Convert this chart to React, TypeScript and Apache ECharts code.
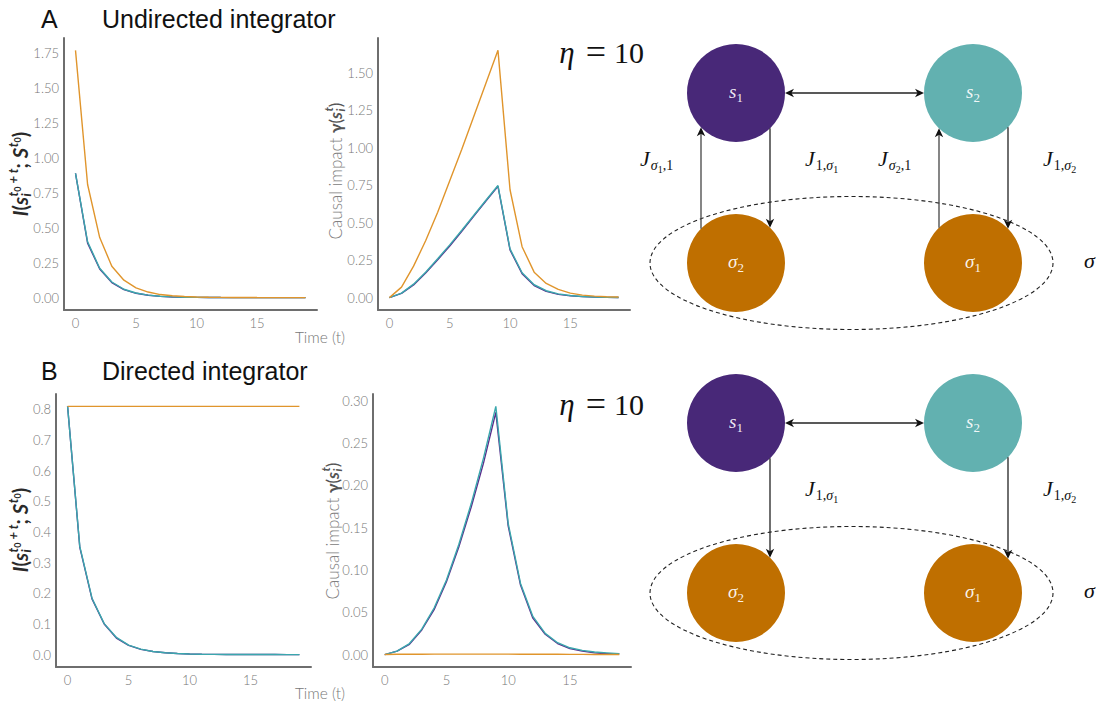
import React, { useEffect, useRef } from "react";
import * as echarts from "echarts";

// ---------------- data ----------------
const TIME = [0, 1, 2, 3, 4, 5, 6, 7, 8, 9, 10, 11, 12, 13, 14, 15, 16, 17, 18, 19];
const X_TICKS = [0, 5, 10, 15];
const TL_Y_TICKS = [0, 0.25, 0.5, 0.75, 1, 1.25, 1.5, 1.75];
const TM_Y_TICKS = [0, 0.25, 0.5, 0.75, 1, 1.25, 1.5];
const BL_Y_TICKS = [0, 0.1, 0.2, 0.3, 0.4, 0.5, 0.6, 0.7, 0.8];
const BM_Y_TICKS = [0, 0.05, 0.1, 0.15, 0.2, 0.25, 0.3];

// A: undirected integrator, mutual information
const uInfoS1 = [0.89, 0.39, 0.205, 0.108, 0.057, 0.031, 0.017, 0.009, 0.005, 0.003, 0.0016, 0.0009, 0.0005, 0.0003, 0.0002, 0.0001, 0.0001, 0, 0, 0];
const uInfoS2 = [0.89, 0.4, 0.21, 0.112, 0.06, 0.033, 0.018, 0.01, 0.0055, 0.003, 0.0017, 0.001, 0.0005, 0.0003, 0.0002, 0.0001, 0.0001, 0, 0, 0];
const uInfoSigma = [1.77, 0.81, 0.43, 0.225, 0.125, 0.07, 0.04, 0.022, 0.013, 0.008, 0.005, 0.003, 0.002, 0.001, 0.001, 0.0005, 0.0003, 0.0002, 0.0001, 0.0001];
// A: undirected integrator, causal impact
const uImpS1 = [0, 0.028, 0.085, 0.165, 0.253, 0.345, 0.443, 0.545, 0.645, 0.743, 0.318, 0.16, 0.081, 0.042, 0.022, 0.012, 0.007, 0.004, 0.002, 0.001];
const uImpS2 = [0, 0.03, 0.09, 0.17, 0.26, 0.352, 0.45, 0.55, 0.65, 0.748, 0.325, 0.166, 0.086, 0.046, 0.025, 0.014, 0.008, 0.004, 0.002, 0.001];
const uImpSigma = [0, 0.07, 0.21, 0.38, 0.57, 0.78, 0.99, 1.21, 1.43, 1.65, 0.72, 0.34, 0.17, 0.095, 0.055, 0.03, 0.017, 0.01, 0.006, 0.004];
// B: directed integrator, mutual information
const dInfoS1 = [0.81, 0.35, 0.182, 0.1, 0.054, 0.03, 0.017, 0.01, 0.006, 0.0035, 0.002, 0.0012, 0.0007, 0.0004, 0.0003, 0.0002, 0.0001, 0.0001, 0, 0];
const dInfoS2 = [0.81, 0.353, 0.184, 0.101, 0.056, 0.031, 0.018, 0.01, 0.006, 0.0036, 0.002, 0.0012, 0.0007, 0.0004, 0.0003, 0.0002, 0.0001, 0.0001, 0, 0];
const dInfoSigma = [0.81, 0.81, 0.81, 0.81, 0.81, 0.81, 0.81, 0.81, 0.81, 0.81, 0.81, 0.81, 0.81, 0.81, 0.81, 0.81, 0.81, 0.81, 0.81, 0.81];
// B: directed integrator, causal impact
const dImpS1 = [0, 0.004, 0.012, 0.029, 0.053, 0.086, 0.127, 0.174, 0.226, 0.286, 0.152, 0.082, 0.043, 0.024, 0.013, 0.007, 0.004, 0.002, 0.001, 0.001];
const dImpS2 = [0, 0.004, 0.013, 0.03, 0.055, 0.088, 0.13, 0.178, 0.232, 0.293, 0.155, 0.084, 0.045, 0.025, 0.014, 0.008, 0.005, 0.003, 0.002, 0.001];
const dImpSigma = [0, 0.0003, 0.0004, 0.0004, 0.0005, 0.0005, 0.0005, 0.0005, 0.0005, 0.0005, 0.0005, 0.0004, 0.0004, 0.0003, 0.0003, 0.0002, 0.0002, 0.0001, 0.0001, 0.0001];

// ---------------- styles ----------------
const C_S1 = "#5a2d8c";
const C_S2 = "#3aa7ad";
const C_SIG = "#e0952c";
const NODE_S1 = "#482878";
const NODE_S2 = "#62b1b0";
const NODE_SIG = "#bf6f00";
const AXIS_C = "#6e6e6e";
const TICK_C = "#777777";
const SANS = "Lato, 'Open Sans', sans-serif";
const SERIF = "'Liberation Serif', 'DejaVu Serif', serif";

let measureCtx: CanvasRenderingContext2D | null = null;
function textWidth(text: string, font: string): number {
  if (!measureCtx) measureCtx = document.createElement("canvas").getContext("2d");
  if (!measureCtx) return text.length * 8;
  measureCtx.font = font;
  return measureCtx.measureText(text).width;
}

type Piece = {
  t: string;
  size: number;
  shift?: number;
  family?: string;
  italic?: boolean;
  weight?: number | string;
  color?: string;
  mark?: boolean;
  reset?: boolean;
  gap?: number;
};

function mathGroup(
  pieces: Piece[],
  x: number,
  y: number,
  opts: { rotation?: number; align?: "center" | "left"; family: string; color: string; k?: number }
) {
  const k = opts.k ?? 0.33;
  let cx = 0;
  let markX = 0;
  const children: any[] = [];
  for (const p of pieces) {
    const fam = p.family ?? opts.family;
    const font = `${p.italic ? "italic " : ""}${p.weight ?? "normal"} ${p.size}px ${fam}`;
    const w = textWidth(p.t, font);
    if (p.mark) markX = cx;
    const px = p.reset ? markX : cx;
    children.push({
      type: "text",
      z: 30,
      x: px,
      y: (p.shift ?? 0) - k * p.size,
      style: {
        text: p.t,
        font,
        fill: p.color ?? opts.color,
        textAlign: "left",
        textVerticalAlign: "middle",
        align: "left",
        verticalAlign: "middle",
      },
    });
    if (p.reset) cx = Math.max(cx, markX + w);
    else cx = px + w + (p.gap ?? 0);
  }
  const off = opts.align === "left" ? 0 : -cx / 2;
  children.forEach((c) => (c.x += off));
  return { type: "group", x, y, rotation: opts.rotation ?? 0, children, z: 30 };
}

function arrowHead(tx: number, ty: number, dx: number, dy: number) {
  const L = 9, W = 4.2, N = 2.6;
  const px = -dy, py = dx;
  return {
    type: "polygon",
    z: 15,
    shape: {
      points: [
        [tx, ty],
        [tx - dx * L + px * W, ty - dy * L + py * W],
        [tx - dx * (L - N), ty - dy * (L - N)],
        [tx - dx * L - px * W, ty - dy * L - py * W],
      ],
    },
    style: { fill: "#111" },
  };
}

function arrow(x1: number, y1: number, x2: number, y2: number, both: boolean, color = "#222") {
  const len = Math.hypot(x2 - x1, y2 - y1);
  const dx = (x2 - x1) / len, dy = (y2 - y1) / len;
  const els: any[] = [];
  const s = both ? 6 : 0;
  els.push({
    type: "line",
    z: 14,
    shape: { x1: x1 + dx * s, y1: y1 + dy * s, x2: x2 - dx * 6, y2: y2 - dy * 6 },
    style: { stroke: color, lineWidth: 1.3 },
  });
  els.push(arrowHead(x2, y2, dx, dy));
  if (both) els.push(arrowHead(x1, y1, -dx, -dy));
  return els;
}

function nodeLabel(sym: string, sub: string, cx: number, cy: number) {
  return mathGroup(
    [
      { t: sym, size: 19, italic: true },
      { t: sub, size: 13, shift: 4 },
    ],
    cx,
    cy + 5,
    { family: SERIF, color: "rgba(255,255,255,0.92)" }
  );
}

function jLabel(kind: "s1" | "1s", subA: string, x: number, y: number) {
  const pieces: Piece[] =
    kind === "s1"
      ? [
          { t: "J", size: 22, italic: true, gap: 1 },
          { t: "σ", size: 14, italic: true, shift: 4 },
          { t: subA, size: 10, shift: 7 },
          { t: ",1", size: 14, shift: 4 },
        ]
      : [
          { t: "J", size: 22, italic: true, gap: 1 },
          { t: "1,", size: 14, shift: 4 },
          { t: "σ", size: 14, italic: true, shift: 4 },
          { t: subA, size: 10, shift: 7 },
        ];
  return mathGroup(pieces, x, y, { family: SERIF, color: "#111", align: "left" });
}

function diagram(ty: number, withUp: boolean) {
  const r = 49;
  const lx = 736, rx = 973;
  const by = ty + 170;
  const els: any[] = [];
  els.push({
    type: "ellipse",
    z: 10,
    shape: { cx: 851.5, cy: by, rx: 201.5, ry: 66.5 },
    style: { fill: "none", stroke: "#222", lineWidth: 1.1, lineDash: [4, 3] },
  });
  els.push({ type: "circle", z: 12, shape: { cx: lx, cy: ty, r }, style: { fill: NODE_S1 } });
  els.push({ type: "circle", z: 12, shape: { cx: rx, cy: ty, r }, style: { fill: NODE_S2 } });
  els.push({ type: "circle", z: 12, shape: { cx: lx, cy: by, r }, style: { fill: NODE_SIG } });
  els.push({ type: "circle", z: 12, shape: { cx: rx, cy: by, r }, style: { fill: NODE_SIG } });
  els.push(nodeLabel("s", "1", lx, ty));
  els.push(nodeLabel("s", "2", rx, ty));
  els.push(nodeLabel("σ", "2", lx, by));
  els.push(nodeLabel("σ", "1", rx, by));
  els.push(...arrow(lx + r, ty, rx - r, ty, true));
  const vy = (d: number) => Math.sqrt(r * r - d * d);
  els.push(...arrow(lx + 34, ty + vy(34), lx + 34, by - vy(34), false));
  els.push(...arrow(rx + 35, ty + vy(35), rx + 35, by - vy(35), false));
  if (withUp) {
    els.push(...arrow(lx - 35, by - vy(35), lx - 35, ty + vy(35), false, "#444"));
    els.push(...arrow(rx - 34, by - vy(34), rx - 34, ty + vy(34), false, "#444"));
    els.push(jLabel("s1", "1", 640, ty + 73));
    els.push(jLabel("s1", "2", 878, ty + 73));
  }
  els.push(jLabel("1s", "1", 805, ty + 73));
  els.push(jLabel("1s", "2", 1043, ty + 73));
  els.push(
    mathGroup([{ t: "σ", size: 22, italic: true }], 1084, by + 5, { family: SERIF, color: "#111", align: "left" })
  );
  return els;
}

function etaLabel(cy: number) {
  const mk = (t: string, x: number, size: number, italic = false) => ({
    type: "text",
    z: 20,
    x,
    y: cy,
    style: {
      text: t,
      font: (italic ? "italic " : "") + `${size}px ${SERIF}`,
      fill: "#111",
      textAlign: "center",
      textVerticalAlign: "middle",
      align: "center",
      verticalAlign: "middle",
    },
  });
  return [mk("η", 567, 31, true), mk("=", 596, 36), mk("10", 629, 30)];
}

function title(letter: string, text: string, y: number) {
  const st = (t: string, x: number) => ({
    type: "text",
    z: 20,
    x,
    y,
    style: {
      text: t,
      font: `25px 'Liberation Sans', Arial, sans-serif`,
      fill: "#111",
      textAlign: "left",
      textVerticalAlign: "middle",
      align: "left",
      verticalAlign: "middle",
    },
  });
  return [st(letter, 41), st(text, 102)];
}

function timeLabel(y: number) {
  return {
    type: "text",
    z: 20,
    x: 320,
    y,
    style: {
      text: "Time (t)",
      font: `300 15.5px ${SANS}`,
      fill: "#777",
      textAlign: "center",
      textVerticalAlign: "middle",
      align: "center",
      verticalAlign: "middle",
    },
  };
}

function infoYLabel(cx: number, cy: number) {
  return mathGroup(
    [
      { t: "I", size: 20, italic: true, weight: 700 },
      { t: "(", size: 20, weight: 700 },
      { t: "s", size: 20, italic: true, weight: 700, gap: 0.5 },
      { t: "t", size: 13, italic: true, weight: 700, shift: -9, mark: true },
      { t: "0", size: 9, weight: 700, shift: -6 },
      { t: " + t", size: 13, italic: true, weight: 700, shift: -9 },
      { t: "i", size: 13, italic: true, weight: 700, shift: 4, reset: true },
      { t: "; ", size: 20, weight: 700 },
      { t: "S", size: 20, italic: true, weight: 700, gap: 0.5 },
      { t: "t", size: 13, italic: true, weight: 700, shift: -9 },
      { t: "0", size: 9, weight: 700, shift: -6 },
      { t: ")", size: 20, weight: 700 },
    ],
    cx,
    cy,
    { rotation: Math.PI / 2, family: SANS, color: "#2a2a2a", k: 0.35 }
  );
}

function impactYLabel(cx: number, cy: number) {
  return mathGroup(
    [
      { t: "Causal impact ", size: 17, weight: 300, color: "#808080" },
      { t: "γ", size: 17, weight: 700, color: "#555" },
      { t: "(", size: 17, weight: 400, color: "#555" },
      { t: "s", size: 17, italic: true, weight: 700, color: "#555", gap: 0.5 },
      { t: "t", size: 12, italic: true, weight: 700, color: "#555", shift: -8, mark: true },
      { t: "i", size: 12, italic: true, weight: 700, color: "#555", shift: 4, reset: true },
      { t: ")", size: 17, weight: 400, color: "#555" },
    ],
    cx,
    cy,
    { rotation: Math.PI / 2, family: SANS, color: "#808080", k: 0.35 }
  );
}

const GRIDS = [
  { left: 64, top: 38, width: 253, height: 272 },
  { left: 378, top: 38, width: 252, height: 272 },
  { left: 56, top: 394, width: 255, height: 273 },
  { left: 373, top: 394, width: 258, height: 273 },
];
const Y_RANGES = [
  { min: -0.0885, max: 1.8585, ticks: TL_Y_TICKS, dec: 2 },
  { min: -0.0825, max: 1.7325, ticks: TM_Y_TICKS, dec: 2 },
  { min: -0.0405, max: 0.8505, ticks: BL_Y_TICKS, dec: 1 },
  { min: -0.0147, max: 0.3077, ticks: BM_Y_TICKS, dec: 2 },
];
const PANEL_SERIES = [
  [uInfoS1, uInfoS2, uInfoSigma],
  [uImpS1, uImpS2, uImpSigma],
  [dInfoS1, dInfoS2, dInfoSigma],
  [dImpS1, dImpS2, dImpSigma],
];
const SERIES_NAMES = ["s1", "s2", "σ"];
const SERIES_COLORS = [C_S1, C_S2, C_SIG];

export default function App() {
  const ref = useRef<HTMLDivElement>(null);
  useEffect(() => {
    if (!ref.current) return;
    const chart = echarts.init(ref.current, undefined, { renderer: "svg" });
    const labelStyle = { color: TICK_C, fontSize: 13, fontFamily: SANS, fontWeight: 300 };
    const xAxis = GRIDS.map((_, i) => ({
      gridIndex: i,
      type: "value",
      min: -0.95,
      max: 19.95,
      axisLine: { show: true, onZero: false, lineStyle: { color: AXIS_C, width: 2 } },
      axisTick: { show: false },
      splitLine: { show: false },
      axisLabel: { ...labelStyle, margin: 6, customValues: X_TICKS, formatter: (v: number) => String(v) },
    }));
    const yAxis = GRIDS.map((_, i) => ({
      gridIndex: i,
      type: "value",
      min: Y_RANGES[i].min,
      max: Y_RANGES[i].max,
      axisLine: { show: true, onZero: false, lineStyle: { color: AXIS_C, width: 2 } },
      axisTick: { show: false },
      splitLine: { show: false },
      axisLabel: {
        ...labelStyle,
        margin: 5,
        customValues: Y_RANGES[i].ticks,
        formatter: (v: number) => v.toFixed(Y_RANGES[i].dec),
      },
    }));
    const series: any[] = [];
    PANEL_SERIES.forEach((arrs, gi) => {
      arrs.forEach((arr, si) => {
        series.push({
          type: "line",
          name: SERIES_NAMES[si],
          xAxisIndex: gi,
          yAxisIndex: gi,
          data: TIME.map((t, k) => [t, arr[k]]),
          showSymbol: false,
          symbol: "none",
          silent: true,
          z: 2 + si,
          lineStyle: { color: SERIES_COLORS[si], width: 1.4 },
          itemStyle: { color: SERIES_COLORS[si] },
        });
      });
    });
    const elements: any[] = [
      ...title("A", "Undirected integrator", 19),
      ...title("B", "Directed integrator", 371),
      ...etaLabel(52),
      ...etaLabel(404),
      timeLabel(337),
      timeLabel(693),
      infoYLabel(27, 174),
      infoYLabel(27, 530),
      impactYLabel(341, 171),
      impactYLabel(338, 531),
      ...diagram(93, true),
      ...diagram(423, false),
    ];
    chart.setOption({
      animation: false,
      backgroundColor: "#ffffff",
      grid: GRIDS.map((g) => ({ ...g, containLabel: false, outerBoundsMode: "none" })),
      xAxis,
      yAxis,
      series,
      graphic: { elements },
    });
    return () => chart.dispose();
  }, []);
  return (
    <div
      ref={ref}
      style={{ position: "absolute", left: 0, top: 0, width: 1096, height: 706, background: "#fff" }}
    />
  );
}
